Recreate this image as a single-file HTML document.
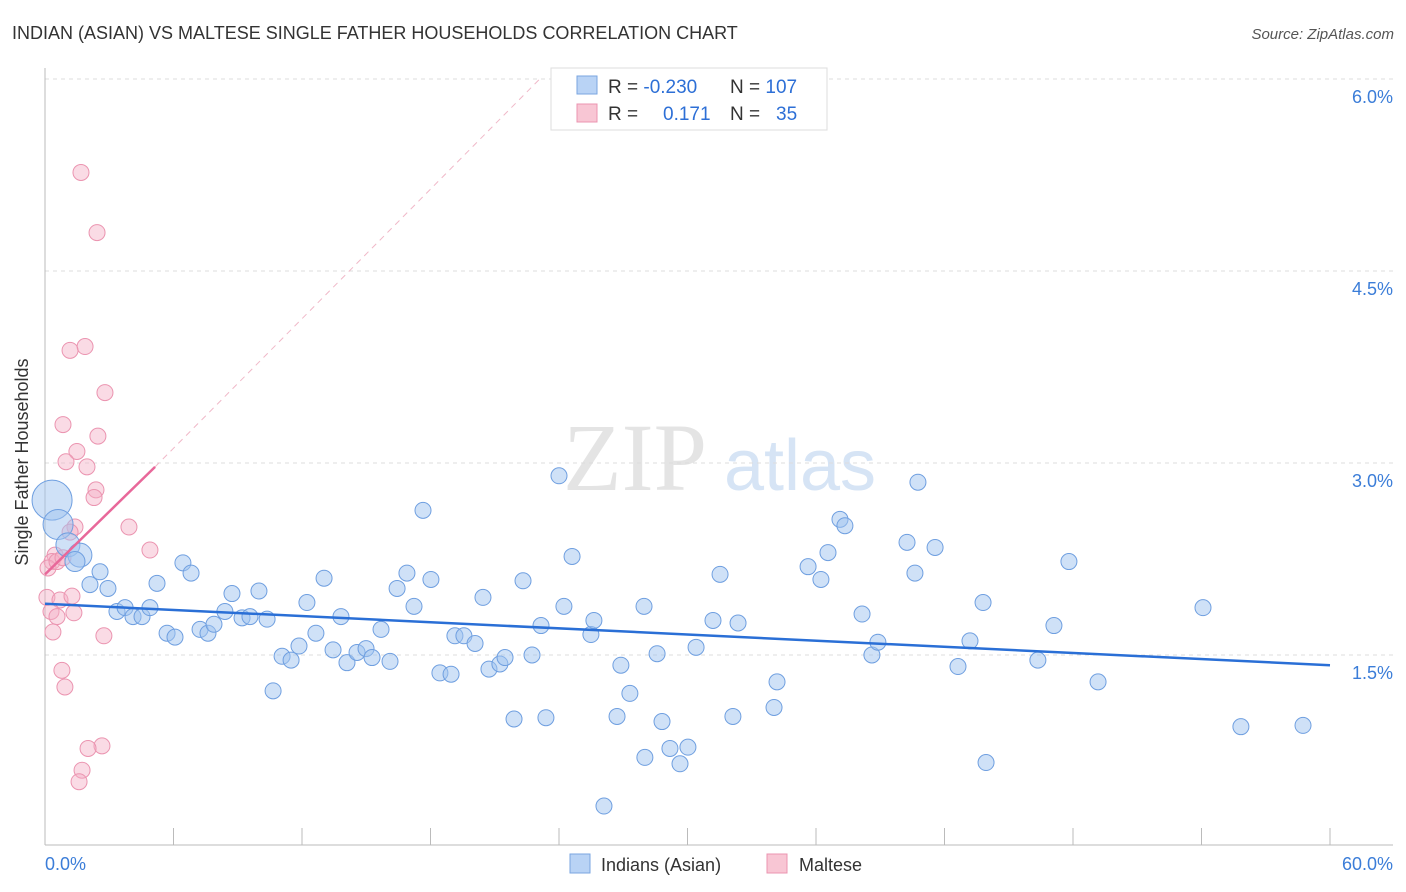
<!DOCTYPE html>
<html><head><meta charset="utf-8"><style>
body{margin:0;background:#fff;font-family:"Liberation Sans",sans-serif;}
svg{display:block}
</style></head><body>
<svg id="chart" width="1406" height="892" xmlns="http://www.w3.org/2000/svg">
<text x="12" y="39" font-size="18" fill="#333">INDIAN (ASIAN) VS MALTESE SINGLE FATHER HOUSEHOLDS CORRELATION CHART</text>
<text x="1394" y="39" font-size="15" fill="#555" font-style="italic" text-anchor="end">Source: ZipAtlas.com</text>
<g>
<text x="635" y="490" font-size="96" fill="#e4e4e4" font-family="Liberation Serif,serif" text-anchor="middle">ZIP</text>
<text x="800" y="490" font-size="72" fill="#d6e4f5" text-anchor="middle">atlas</text>
</g>
<g id="grid"></g>
<g id="axes"></g>
<g id="pinkPts"></g>
<g id="bluePts"></g>
<g id="trends"></g>
<text x="22" y="456" font-size="18" fill="#333" transform="rotate(-90 28 456)" text-anchor="middle">Single Father Households</text>
<g>
<rect x="551" y="68" width="276" height="62" fill="#fff" stroke="#ddd"/>
<rect x="577" y="76" width="20" height="18" fill="#b9d3f5" stroke="#7aa6e0"/>
<rect x="577" y="104" width="20" height="18" fill="#f8c6d4" stroke="#eb94b0"/>
<text x="608" y="93" font-size="19" fill="#333">R = <tspan fill="#2d6fd6">-0.230</tspan></text>
<text x="730" y="93" font-size="19" fill="#333">N = <tspan fill="#2d6fd6">107</tspan></text>
<text x="608" y="120" font-size="19" fill="#333">R = </text>
<text x="663" y="120" font-size="19" fill="#2d6fd6">0.171</text>
<text x="730" y="120" font-size="19" fill="#333">N = </text>
<text x="776" y="120" font-size="19" fill="#2d6fd6">35</text>
</g>
<g>
<rect x="570" y="854" width="20" height="19" fill="#b9d3f5" stroke="#7aa6e0"/>
<text x="601" y="871" font-size="18" fill="#333">Indians (Asian)</text>
<rect x="767" y="854" width="20" height="19" fill="#f8c6d4" stroke="#eb94b0"/>
<text x="799" y="871" font-size="18" fill="#333">Maltese</text>
</g>
</svg>
<script>
const blueX=[0.33,0.61,1.07,1.63,1.40,2.10,2.57,2.94,3.36,3.74,4.11,4.53,4.90,5.23,5.70,6.07,6.44,6.82,7.24,7.61,7.89,8.40,8.73,9.20,9.57,9.99,10.37,10.65,11.07,11.49,11.86,12.23,12.65,13.03,13.45,13.82,14.10,14.57,14.99,15.27,15.69,16.11,16.44,16.90,17.23,17.65,18.02,18.44,18.96,19.14,19.56,20.08,20.45,20.73,21.24,21.48,21.90,22.32,22.74,23.16,23.39,24.00,24.23,24.61,25.49,25.63,26.10,26.71,26.89,27.31,27.97,28.01,28.58,28.81,29.18,29.65,30.02,30.40,31.19,31.52,32.12,32.36,34.04,34.18,35.63,36.23,36.56,37.12,37.35,38.15,38.61,38.89,40.25,40.62,40.76,41.56,42.63,43.19,43.80,43.94,46.36,47.11,47.81,49.17,54.07,55.84,58.74];
const blueY=[2.71,2.52,2.36,2.28,2.23,2.05,2.15,2.02,1.84,1.87,1.80,1.80,1.87,2.06,1.67,1.64,2.22,2.14,1.70,1.67,1.74,1.84,1.98,1.79,1.80,2.00,1.78,1.22,1.49,1.46,1.57,1.91,1.67,2.10,1.54,1.80,1.44,1.52,1.55,1.48,1.70,1.45,2.02,2.14,1.88,2.63,2.09,1.36,1.35,1.65,1.65,1.59,1.95,1.39,1.43,1.48,1.00,2.08,1.50,1.73,1.01,2.90,1.88,2.27,1.66,1.77,0.32,1.02,1.42,1.20,1.88,0.70,1.51,0.98,0.77,0.65,0.78,1.56,1.77,2.13,1.02,1.75,1.09,1.29,2.19,2.09,2.30,2.56,2.51,1.82,1.50,1.60,2.38,2.14,2.85,2.34,1.41,1.61,1.91,0.66,1.46,1.73,2.23,1.29,1.87,0.94,0.95];
const blueSize=[20,15,12,12,10];
const pinkX=[1.68,2.43,1.87,1.17,2.80,0.84,2.47,1.49,0.98,1.96,2.38,2.29,1.40,3.92,4.90,0.47,0.33,0.14,0.56,0.84,1.17,0.09,0.70,1.26,0.28,0.56,1.35,0.37,2.75,0.79,0.93,2.66,2.01,1.73,1.59];
const pinkY=[5.27,4.80,3.91,3.88,3.55,3.30,3.21,3.09,3.01,2.97,2.79,2.73,2.50,2.50,2.32,2.28,2.23,2.18,2.23,2.26,2.46,1.95,1.93,1.96,1.84,1.80,1.83,1.68,1.65,1.38,1.25,0.79,0.77,0.60,0.51];
const blueTrend=[[0,1.90],[60,1.42]];
const pinkTrend=[[0,2.13],[5.14,2.97]];
const pinkDash=[[5.14,2.97],[23.1,6.0]];
const yTicks=[1.5,3.0,4.5,6.0];
const xTickVals=[0,6,12,18,24,30,36,42,48,54,60];
const NS="http://www.w3.org/2000/svg";
const sx=v=>45+v*(1285/60);
const sy=v=>847-v*128;
function mk(tag,attrs,parent){const e=document.createElementNS(NS,tag);for(const k in attrs)e.setAttribute(k,attrs[k]);parent.appendChild(e);return e;}
const grid=document.getElementById('grid'),axes=document.getElementById('axes');
yTicks.forEach(t=>{
 const l=mk('line',{x1:45,x2:1393,y1:sy(t),y2:sy(t),stroke:'#ddd','stroke-dasharray':'4,4'},grid);
 
 
 const tx=mk('text',{x:1393,y:sy(t)+24,'font-size':18,fill:'#3b7dd8','text-anchor':'end'},axes);
 tx.textContent=t.toFixed(1)+'%';
 
 
});
mk('line',{x1:45,x2:45,y1:68,y2:845,stroke:'#bbb'},axes);
mk('line',{x1:45,x2:1393,y1:845,y2:845,stroke:'#bbb'},axes);
xTickVals.forEach(t=>{
 const l=mk('line',{x1:sx(t),x2:sx(t),y1:828,y2:845,stroke:'#bbb'},axes);
 
 
});
const x0=mk('text',{x:45,y:870,'font-size':18,fill:'#3b7dd8'},axes);x0.textContent='0.0%';


const x1=mk('text',{x:1393,y:870,'font-size':18,fill:'#3b7dd8','text-anchor':'end'},axes);x1.textContent='60.0%';


const bp=document.getElementById('bluePts'),pp=document.getElementById('pinkPts');
pinkX.forEach((v,i)=>{
 const c=mk('circle',{cx:sx(v),cy:sy(pinkY[i]),r:8,fill:'rgba(245,175,198,0.45)',stroke:'#eb94b0','stroke-width':1},pp);
 
 
});
blueX.forEach((v,i)=>{
 const c=mk('circle',{cx:sx(v),cy:sy(blueY[i]),r:blueSize[i]||8,fill:'rgba(160,195,240,0.5)',stroke:'#6f9fe0','stroke-width':1},bp);
 
 
});
const tr=document.getElementById('trends');
const bl=mk('line',{x1:sx(blueTrend[0][0]),y1:sy(blueTrend[0][1]),x2:sx(blueTrend[1][0]),y2:sy(blueTrend[1][1]),stroke:'#2a6fd6','stroke-width':2.5},tr);


const pd=mk('line',{x1:sx(pinkDash[0][0]),y1:sy(pinkDash[0][1]),x2:sx(pinkDash[1][0]),y2:sy(pinkDash[1][1]),stroke:'#f0b8c8','stroke-width':1,'stroke-dasharray':'6,5'},tr);


const pl=mk('line',{x1:sx(pinkTrend[0][0]),y1:sy(pinkTrend[0][1]),x2:sx(pinkTrend[1][0]),y2:sy(pinkTrend[1][1]),stroke:'#e8689a','stroke-width':2.5},tr);


</script>
</body></html>
